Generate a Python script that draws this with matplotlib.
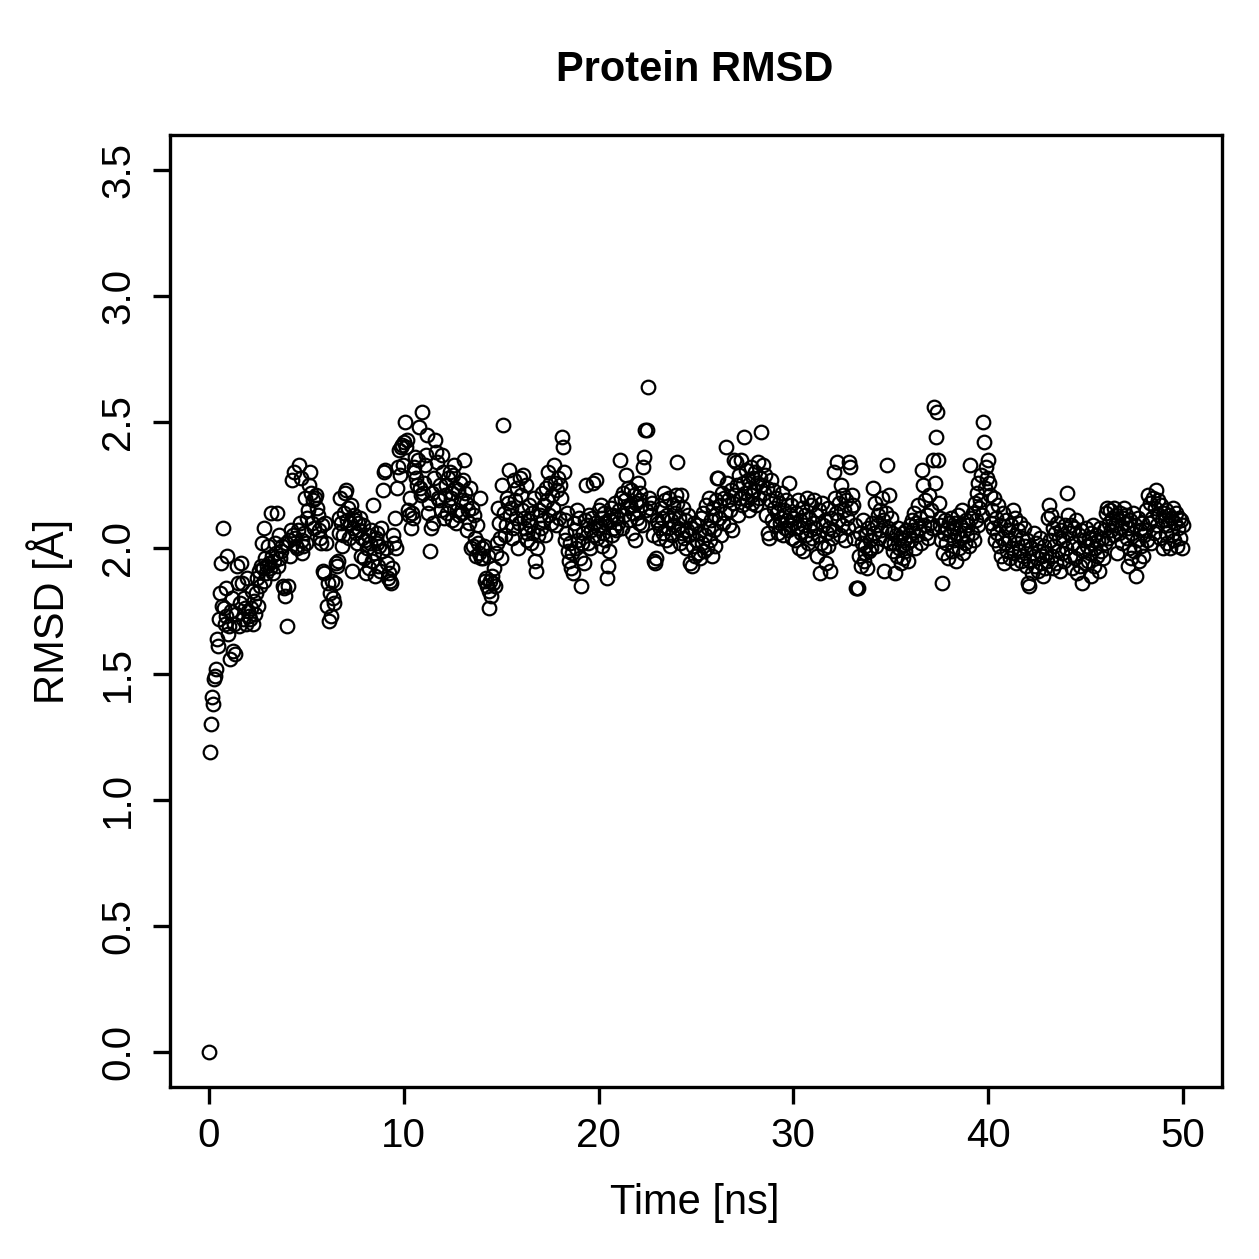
import numpy as np
import matplotlib
matplotlib.use("Agg")
import matplotlib.pyplot as plt

plt.rcParams['font.family'] = ['Liberation Sans', 'DejaVu Sans']

title = "Protein RMSD"
xlabel = "Time [ns]"
ylabel = "RMSD [Å]"
xticks = [0, 10, 20, 30, 40, 50]
yticks = [0.0, 0.5, 1.0, 1.5, 2.0, 2.5, 3.0, 3.5]
ytick_labels = ["0.0", "0.5", "1.0", "1.5", "2.0", "2.5", "3.0", "3.5"]

# RMSD values, one frame every 0.05 ns (t = 0 .. 50 ns)
rmsd_start = [0.00]
rmsd_00_10 = [1.19,1.30,1.41,1.38,1.48,1.49,1.52,1.64,1.61,1.72,1.82,1.94,1.77,2.08,1.76,1.70,1.73,1.84,1.97,1.66,
              1.69,1.56,1.75,1.80,1.59,1.70,1.58,1.74,1.93,1.86,1.69,1.78,1.94,1.86,1.72,1.80,1.76,1.70,1.88,1.75,
              1.73,1.72,1.76,1.83,1.70,1.79,1.74,1.82,1.88,1.77,1.91,1.85,1.93,2.02,1.92,1.87,2.08,1.96,1.90,1.93,
              2.01,1.94,1.92,2.14,1.97,1.90,1.95,2.02,1.98,2.14,1.93,2.05,1.96,1.99,2.01,1.85,1.84,1.81,2.02,1.69,
              1.85,2.03,1.97,2.07,2.27,2.05,2.30,2.04,2.01,2.00,2.07,2.33,2.10,2.28,1.98,2.03,2.01,2.06,2.20,2.02,
              2.12,2.15,2.25,2.30,2.22,2.10,2.19,2.08,2.20,2.21,2.16,2.13,2.07,2.04,2.02,2.09,1.91,1.90,2.10,2.02,
              1.77,1.86,1.71,1.82,1.73,1.87,1.80,1.78,1.86,1.94,1.93,1.95,2.06,2.12,2.20,2.10,2.01,2.05,2.14,2.22,
              2.23,2.11,2.16,2.04,2.10,2.17,1.91,2.08,2.13,2.11,2.06,2.02,2.10,2.07,2.12,1.97,2.04,2.09,1.96,2.03,
              1.90,2.00,2.05,1.92,2.02,2.07,1.95,2.17,1.98,1.89,2.04,2.02,2.06,1.93,2.01,1.91,2.08,1.99,2.23,2.30,
              2.31,2.00,1.94,1.88,1.90,1.87,1.86,1.92,2.05,2.02,2.12,2.00,2.24,2.32,2.39,2.29,2.40,2.41,2.33,2.42]
rmsd_10_20 = [2.50,2.40,2.43,2.15,2.13,2.20,2.08,2.14,2.12,2.32,2.30,2.36,2.28,2.25,2.35,2.48,2.24,2.21,2.54,2.22,
              2.26,2.33,2.37,2.45,2.14,2.18,1.99,2.08,2.22,2.10,2.28,2.43,2.38,2.34,2.20,2.19,2.25,2.15,2.37,2.30,
              2.12,2.21,2.25,2.14,2.28,2.17,2.30,2.20,2.22,2.11,2.29,2.33,2.24,2.10,2.15,2.23,2.13,2.26,2.19,2.14,
              2.27,2.35,2.22,2.18,2.07,2.15,2.10,2.24,2.00,2.16,2.01,2.13,2.04,1.97,2.09,2.02,1.98,2.20,1.96,2.00,
              1.96,2.01,1.87,1.88,1.85,1.97,1.83,1.76,1.87,1.81,1.89,1.86,1.92,1.85,1.98,2.02,2.16,2.10,2.04,1.96,
              2.25,2.49,2.14,2.05,2.09,2.20,2.18,2.31,2.13,2.16,2.04,2.08,2.27,2.19,2.12,2.24,2.00,2.10,2.28,2.21,
              2.15,2.29,2.12,2.08,2.25,2.03,2.06,2.11,2.17,2.09,2.02,2.14,2.06,2.20,1.95,1.91,2.00,2.05,2.15,2.13,
              2.08,2.22,2.11,2.17,2.05,2.24,2.19,2.30,2.13,2.26,2.10,2.21,2.16,2.33,2.26,2.09,2.23,2.28,2.12,2.25,
              2.20,2.44,2.40,2.30,2.11,2.03,2.06,2.14,1.99,1.95,2.02,1.92,1.98,1.90,2.10,2.07,2.00,2.15,2.03,2.12,
              1.96,1.85,2.02,2.06,1.94,2.11,2.25,2.09,2.02,2.13,2.00,2.07,2.12,2.26,2.05,2.10,2.27,2.04,2.08,2.15]
rmsd_20_30 = [2.09,2.17,2.01,2.12,2.06,2.14,2.03,2.10,1.88,1.93,1.99,2.11,2.16,2.05,2.13,2.08,2.18,2.07,2.12,2.10,
              2.15,2.35,2.20,2.08,2.22,2.13,2.19,2.29,2.16,2.24,2.11,2.17,2.23,2.06,2.14,2.21,2.03,2.18,2.12,2.26,
              2.10,2.19,2.22,2.17,2.09,2.32,2.36,2.47,2.15,2.47,2.64,2.20,2.16,2.13,2.18,2.05,1.95,1.94,1.96,2.11,
              2.10,2.04,2.08,2.16,2.12,2.06,2.22,2.19,2.03,2.13,2.08,2.20,2.01,2.11,2.05,2.17,2.09,2.14,2.21,2.34,
              2.18,2.08,2.12,2.02,2.21,2.06,2.16,2.04,2.11,2.00,2.07,2.13,2.05,1.94,2.08,1.93,2.01,2.10,1.97,2.03,
              2.09,1.98,2.06,1.96,2.12,2.02,2.14,1.99,2.05,2.17,2.00,2.08,2.20,2.03,2.11,1.97,2.16,2.07,2.13,2.01,
              2.19,2.28,2.28,2.12,2.17,2.05,2.22,2.10,2.20,2.14,2.40,2.26,2.19,2.09,2.15,2.23,2.07,2.18,2.35,2.21,
              2.34,2.25,2.13,2.29,2.20,2.35,2.17,2.26,2.44,2.22,2.31,2.19,2.27,2.15,2.24,2.32,2.21,2.18,2.28,2.23,
              2.30,2.17,2.26,2.34,2.20,2.28,2.46,2.25,2.33,2.22,2.29,2.13,2.24,2.06,2.04,2.19,2.27,2.11,2.23,2.16,
              2.09,2.20,2.14,2.06,2.18,2.10,2.12,2.22,2.05,2.15,2.08,2.19,2.11,2.07,2.26,2.13,2.09,2.17,2.04,2.12]
rmsd_30_40 = [2.10,2.03,2.14,2.08,2.19,2.00,2.11,2.06,2.16,1.99,2.09,2.13,2.05,2.20,2.02,2.12,2.07,2.17,2.04,2.10,
              2.19,2.08,2.13,1.97,2.05,2.15,1.90,2.02,2.18,2.09,2.00,2.11,1.94,2.06,2.16,2.01,2.08,1.91,2.12,2.04,
              2.07,2.30,2.20,2.14,2.34,2.11,2.18,2.05,2.25,2.09,2.21,2.15,2.03,2.19,2.12,2.08,2.34,2.32,2.16,2.21,
              2.17,2.04,2.09,1.84,1.84,1.84,1.97,2.06,1.93,2.02,2.11,1.95,2.01,1.98,2.05,1.92,2.08,1.99,2.03,2.00,
              2.10,2.24,2.06,2.18,2.01,2.09,2.13,2.04,2.15,2.07,2.20,2.11,1.91,2.03,2.14,2.33,2.08,2.21,2.02,2.12,
              2.06,1.99,2.02,1.90,2.05,1.97,2.08,2.00,2.04,1.94,2.01,2.06,1.96,2.03,1.99,2.07,2.02,1.95,2.05,2.09,
              2.03,2.11,2.07,2.14,2.00,2.10,2.05,2.17,2.08,2.12,2.02,2.31,2.25,2.09,2.19,2.06,2.13,2.04,2.21,2.10,
              2.15,2.08,2.35,2.56,2.26,2.44,2.54,2.35,2.18,2.09,2.12,2.03,1.86,1.98,2.06,2.11,2.02,2.08,1.96,2.10,
              2.05,2.12,1.99,2.08,2.03,2.10,1.95,2.06,2.13,2.00,2.09,2.04,2.15,1.98,2.07,2.02,2.11,2.05,2.09,2.01,
              2.33,2.12,2.06,2.14,2.03,2.18,2.11,2.22,2.09,2.26,2.16,2.19,2.29,2.13,2.50,2.42,2.24,2.32,2.28,2.35]
rmsd_40_50 = [2.26,2.21,2.10,2.15,2.08,2.20,2.03,2.12,2.06,2.17,2.01,2.09,1.97,2.04,2.14,1.94,2.02,2.11,1.99,2.07,
              2.03,1.96,2.09,2.00,2.15,1.98,2.05,2.12,1.94,2.02,2.07,1.99,2.10,1.95,2.04,1.97,2.08,2.01,1.93,2.03,
              1.86,1.85,1.95,2.00,1.90,1.98,2.06,1.93,2.02,1.96,1.91,1.99,2.04,1.94,1.97,1.89,2.01,1.92,1.98,1.95,
              2.12,2.17,2.03,2.13,1.97,2.08,1.92,2.01,2.06,1.94,2.10,1.99,2.04,1.91,2.07,1.98,2.03,1.95,2.09,2.00,
              2.22,2.13,2.06,1.97,2.09,1.92,2.02,2.08,1.96,2.11,1.90,2.00,2.05,1.93,2.07,1.86,1.99,2.03,1.94,2.08,
              2.01,1.95,2.04,1.98,2.06,1.89,2.02,2.09,1.93,2.00,2.05,1.97,2.03,1.91,2.08,1.99,2.04,1.96,2.07,2.02,
              2.14,2.16,2.04,2.10,2.15,2.07,2.12,2.05,2.16,2.09,2.13,1.98,2.11,2.06,2.14,2.08,2.02,2.12,2.16,2.10,
              2.13,2.04,1.93,2.08,2.00,2.11,1.96,2.06,2.14,1.99,2.09,1.89,2.03,2.12,1.95,2.07,2.01,2.10,1.97,2.05,
              2.07,2.15,2.03,2.21,2.10,2.18,2.02,2.12,2.20,2.06,2.16,2.23,2.09,2.19,2.13,2.04,2.17,2.11,2.00,2.14,
              2.11,2.06,2.15,2.02,2.09,2.13,2.00,2.12,2.05,2.16,2.03,2.10,2.14,2.01,2.08,2.12,2.04,2.11,2.00,2.09]

rmsd = np.array(rmsd_start + rmsd_00_10 + rmsd_10_20 + rmsd_20_30 + rmsd_30_40 + rmsd_40_50)
time_ns = np.linspace(0, 50, len(rmsd))

W = H = 1259
fig = plt.figure(figsize=(W / 100, H / 100), dpi=100)
ax = fig.add_axes([170 / W, 1 - 1087 / H, (1222 - 170) / W, (1087 - 135) / H])

ax.plot(time_ns, rmsd, linestyle='none', marker='o', markersize=9.8,
        markerfacecolor='none', markeredgecolor='black', markeredgewidth=1.6)

ax.set_xlim(-2, 52)
ax.set_ylim(-0.14, 3.64)
ax.set_xticks(xticks)
ax.set_xticklabels([str(v) for v in xticks])
ax.set_yticks(yticks)
ax.set_yticklabels(ytick_labels, rotation=90, va='center')

for s in ax.spines.values():
    s.set_linewidth(2.4)
ax.tick_params(axis='both', direction='out', length=12.5, width=2.4, labelsize=29)
ax.tick_params(axis='x', pad=9)
ax.tick_params(axis='y', pad=11)

fig.text(695 / W, 1 - 70 / H, title, ha='center', va='center', fontsize=30, fontweight='bold')
fig.text(695 / W, 1 - 1203 / H, xlabel, ha='center', va='center', fontsize=30)
fig.text(50 / W, 1 - 611 / H, ylabel, ha='center', va='center', fontsize=30, rotation=90)

fig.savefig("out.png", dpi=100)
